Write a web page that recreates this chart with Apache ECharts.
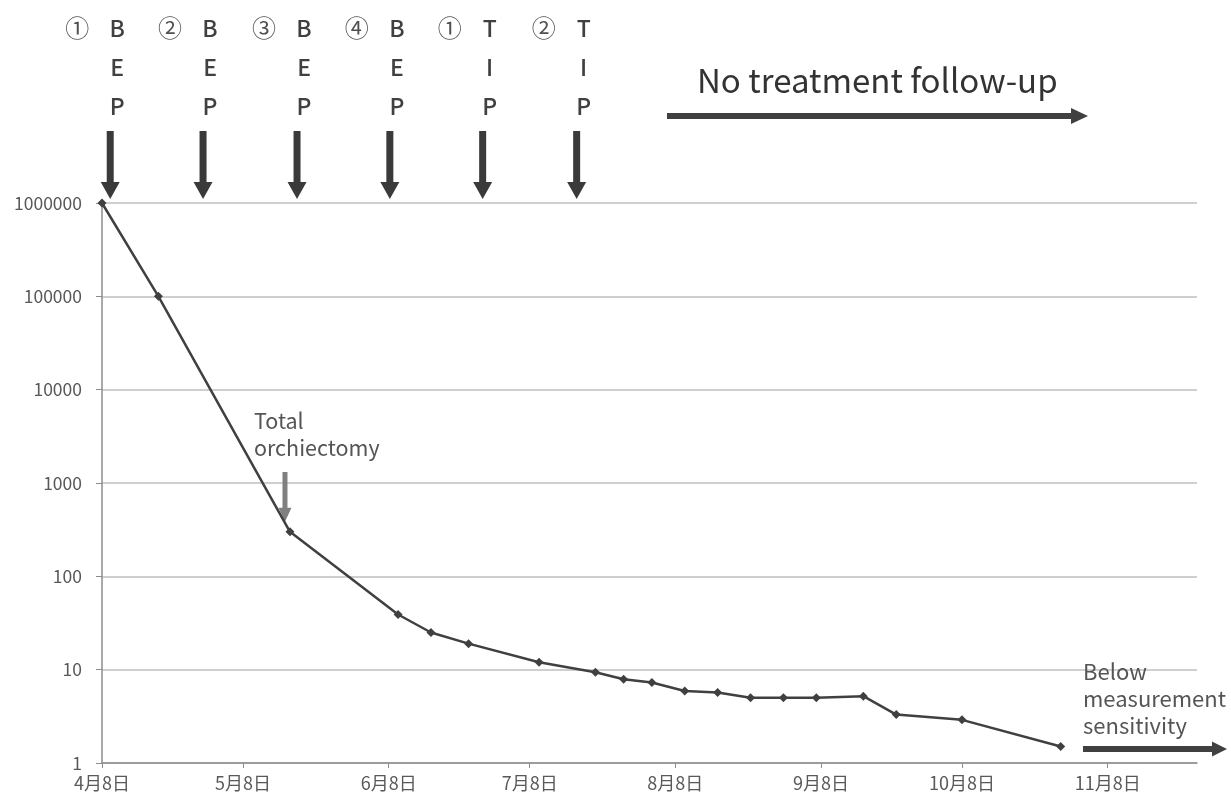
<!DOCTYPE html>
<html>
<head>
<meta charset="utf-8">
<script src="https://cdn.jsdelivr.net/npm/echarts@6/dist/echarts.min.js"></script>
<style>
html,body{margin:0;padding:0;background:#fff;}
#chart{width:1231px;height:801px;}
</style>
</head>
<body>
<div id="chart"></div>
<script>
// measured dates and hCG values (log scale)
var dates = ['2019-04-08','2019-04-20','2019-05-18','2019-06-10','2019-06-17','2019-06-25',
	'2019-07-10','2019-07-22','2019-07-28','2019-08-03','2019-08-10','2019-08-17','2019-08-24',
	'2019-08-31','2019-09-07','2019-09-17','2019-09-24','2019-10-08','2019-10-29'];
var values = [1000000,100000,300,39,25,19,12,9.4,7.9,7.3,5.9,5.7,5.0,5.0,5.0,5.2,3.3,2.9,1.5];

var xTickDates = ['2019-04-08','2019-05-08','2019-06-08','2019-07-08','2019-08-08','2019-09-08','2019-10-08','2019-11-08'];
var xMin = '2019-04-08', xMax = '2019-11-27';
var yTicks = [1,10,100,1000,10000,100000,1000000];

// chemotherapy cycles
var cycleNums = ['①','②','③','④','①','②'];
var cycleRegimens = ['BEP','BEP','BEP','BEP','TIP','TIP'];
var cycleDates = ['2019-04-09 18:00','2019-04-29 12:00','2019-05-19 12:00','2019-06-08 06:00','2019-06-28','2019-07-18'];

var FONT = '"Noto Sans CJK JP","Noto Sans",sans-serif';
var DAY = 86400000;

function toTime(s){
	var p = s.split(/[- :]/);
	return Date.UTC(+p[0], +p[1]-1, +p[2], +(p[3]||0), +(p[4]||0));
}
var t0 = toTime(xMin);
// days since first measurement
function toDay(s){ return (toTime(s) - t0) / DAY; }

function downArrow(cx, yTop, yTip, sw, hw, hh, color){
	return {type:'polygon', silent:true, shape:{points:[
		[cx-sw/2,yTop],[cx+sw/2,yTop],[cx+sw/2,yTip-hh],[cx+hw/2,yTip-hh],
		[cx,yTip],[cx-hw/2,yTip-hh],[cx-sw/2,yTip-hh]]}, style:{fill:color}};
}
function rightArrow(x0, xTip, cy, sw, hw, hh, color){
	return {type:'polygon', silent:true, shape:{points:[
		[x0,cy-sw/2],[xTip-hh,cy-sw/2],[xTip-hh,cy-hw/2],[xTip,cy],
		[xTip-hh,cy+hw/2],[xTip-hh,cy+sw/2],[x0,cy+sw/2]]}, style:{fill:color}};
}
function label(text, x, y, font, color, align, lh){
	return {type:'text', silent:true, style:{text:text, x:x, y:y, font:font+' '+FONT,
		fill:color, textAlign:align||'center', textVerticalAlign:'middle', lineHeight:lh}};
}

var chart = echarts.init(document.getElementById('chart'));

var seriesData = [];
for (var i = 0; i < dates.length; i++) seriesData.push([toDay(dates[i]), values[i]]);
var xTicks = xTickDates.map(toDay);

chart.setOption({
	animation:false,
	grid:{left:102, right:34, top:203, bottom:38},
	xAxis:{
		type:'value', min:0, max:toDay(xMax),
		axisLine:{show:true, lineStyle:{color:'#8c8c8c', width:1.5}},
		axisTick:{show:true, customValues:xTicks, length:5, lineStyle:{color:'#8c8c8c'}},
		axisLabel:{customValues:xTicks, margin:11, color:'#595959', fontSize:18, fontFamily:FONT,
			formatter:function(v){ var d = new Date(t0 + v*DAY); return (d.getUTCMonth()+1)+'月'+d.getUTCDate()+'日'; }},
		splitLine:{show:false}
	},
	yAxis:{
		type:'log', logBase:10, min:yTicks[0], max:yTicks[yTicks.length-1],
		axisLine:{show:true, lineStyle:{color:'#8c8c8c', width:1.5}},
		axisTick:{show:true, length:6, lineStyle:{color:'#8c8c8c'}},
		axisLabel:{margin:20, color:'#595959', fontSize:17.5, fontFamily:FONT,
			formatter:function(v){ return String(Math.round(v)); }},
		splitLine:{show:true, lineStyle:{color:'#bfbfbf', width:1.5}}
	},
	series:[{
		type:'line', data:seriesData, symbol:'diamond', symbolSize:9,
		lineStyle:{color:'#404040', width:2.5}, itemStyle:{color:'#404040'}
	}]
});

// annotations
var g = [];
for (var k = 0; k < cycleDates.length; k++) {
	var cx = chart.convertToPixel({xAxisIndex:0}, toDay(cycleDates[k]));
	g.push(label(cycleNums[k], cx-33, 28, '24px', '#505050'));
	for (var j = 0; j < cycleRegimens[k].length; j++)
		g.push(label(cycleRegimens[k].charAt(j), cx+7, 28+39*j, '500 23px', '#404040'));
	g.push(downArrow(cx, 131, 199, 7, 19, 17, '#3a3a3a'));
}
g.push(label('No treatment follow-up', 697, 80, '33px', '#333333', 'left'));
g.push(rightArrow(667, 1088, 116, 6, 16, 17, '#404040'));

var op = chart.convertToPixel({seriesIndex:0}, seriesData[2]);
g.push(label('Total\norchiectomy', op[0]-36, 434, '21.5px', '#555555', 'left', 27));
g.push(downArrow(op[0]-5, 472, op[1]-10, 5, 13, 14, '#808080'));

g.push(label('Below\nmeasurement\nsensitivity', 1083, 699, '22px', '#555555', 'left', 27));
g.push(rightArrow(1083, 1227, 749, 6, 15, 15, '#404040'));

chart.setOption({graphic:{elements:g}});
</script>
</body>
</html>
